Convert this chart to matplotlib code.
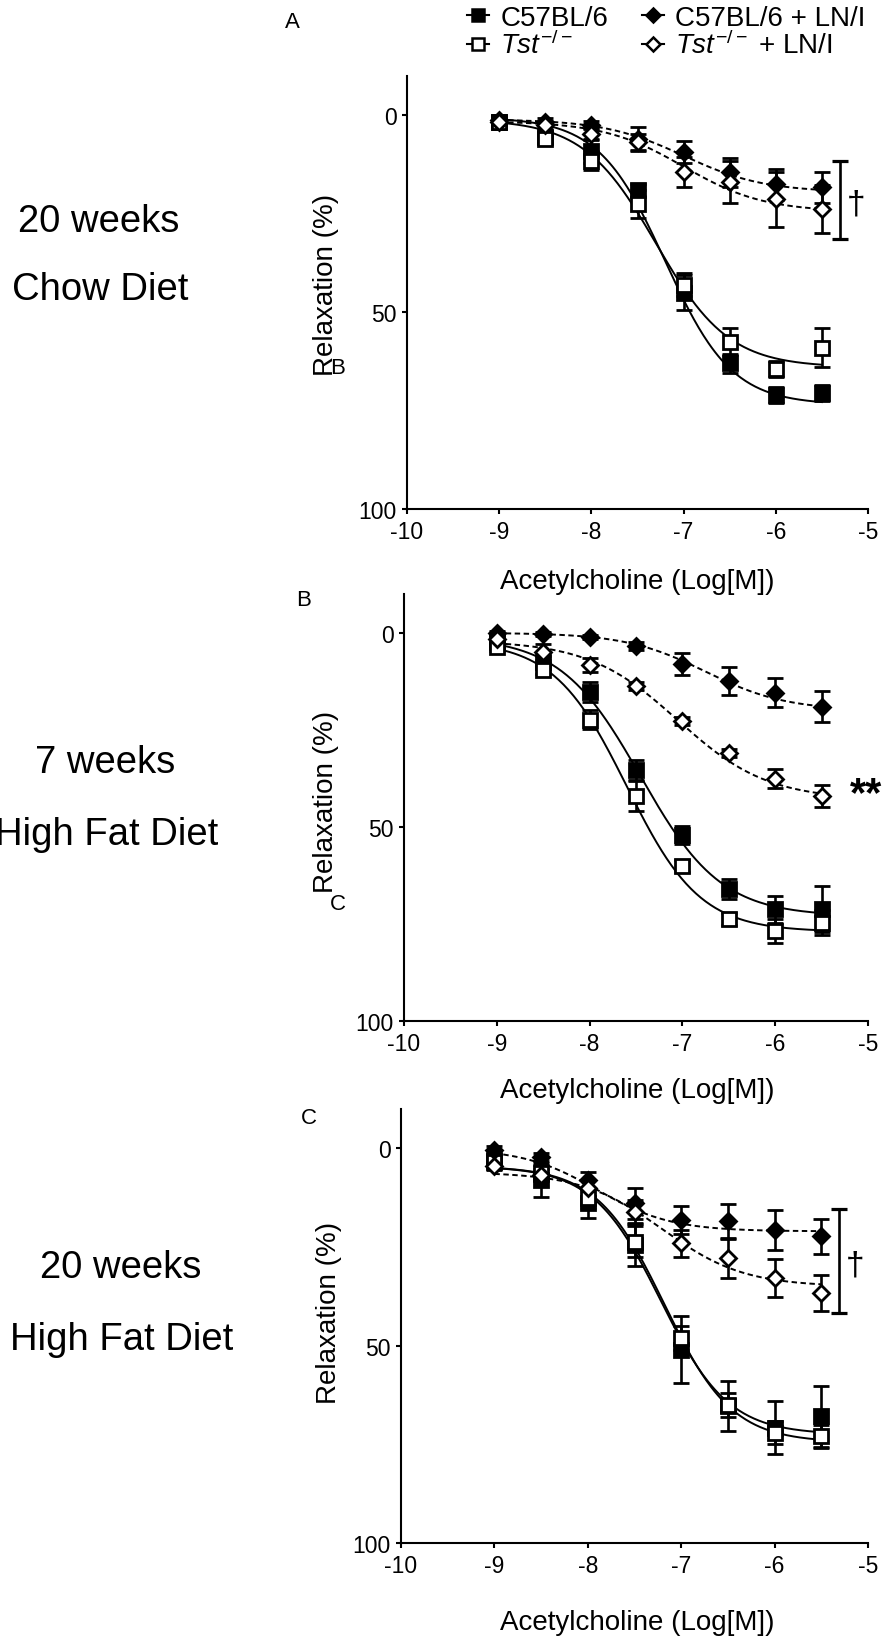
import numpy as np
import matplotlib.pyplot as plt

plt.rcParams['font.family'] = ['Liberation Sans', 'DejaVu Sans']
plt.rcParams['mathtext.fontset'] = 'custom'
plt.rcParams['mathtext.rm'] = 'Liberation Sans'
plt.rcParams['mathtext.it'] = 'Liberation Sans:italic'
plt.rcParams['axes.unicode_minus'] = False

W, H = 886, 1640

# concentrations (log M)
log_ach = [-9, -8.5, -8, -7.5, -7, -6.5, -6, -5.5]
x_ticks = [-10, -9, -8, -7, -6, -5]
y_ticks = [0, 50, 100]

labels = ['C57BL/6', r'$Tst^{-/-}$', 'C57BL/6 + LN/I', r'$Tst^{-/-}$ + LN/I']

# A: 20 weeks chow diet
a_c57 = [1.7, 5.5, 9.0, 19.0, 45.0, 63.0, 71.0, 70.5]
a_c57_err = [1.0, 1.5, 3.0, 1.5, 4.5, 2.5, 2.0, 2.0]
a_tst = [1.7, 6.0, 11.5, 22.5, 43.0, 57.5, 64.5, 59.0]
a_tst_err = [1.0, 1.0, 2.5, 3.5, 3.0, 3.4, 2.0, 5.0]
a_c57_ln = [1.3, 1.7, 2.5, 6.0, 9.4, 14.5, 17.5, 18.3]
a_c57_ln_err = [1.0, 1.0, 1.0, 3.0, 2.8, 3.6, 4.0, 4.0]
a_tst_ln = [1.7, 2.5, 4.7, 6.8, 14.5, 17.0, 21.3, 23.8]
a_tst_ln_err = [1.0, 1.0, 1.5, 2.0, 3.8, 5.3, 7.0, 6.0]
# fitted curves: start, end, logEC50, hill
a_fits = [[0.5, 73.5, -7.2, 1.2], [1.0, 64.0, -7.3, 1.1],
          [1.0, 19.5, -7.0, 1.0], [1.5, 24.5, -7.0, 1.0]]

# B: 7 weeks high fat diet
b_c57 = [2.3, 7.4, 15.2, 35.3, 52.0, 66.0, 71.2, 71.2]
b_c57_err = [1.0, 1.5, 2.6, 2.6, 2.3, 2.7, 3.5, 6.0]
b_tst = [3.6, 9.6, 22.4, 42.0, 60.0, 73.8, 76.8, 74.7]
b_tst_err = [1.0, 1.0, 2.5, 3.8, 1.5, 1.5, 3.0, 3.2]
b_c57_ln = [0.0, 0.2, 1.0, 3.3, 8.0, 12.3, 15.4, 19.0]
b_c57_ln_err = [0.5, 0.5, 0.5, 1.0, 2.8, 3.6, 3.8, 4.0]
b_tst_ln = [1.5, 4.9, 8.3, 13.7, 22.7, 31.0, 37.6, 42.0]
b_tst_ln_err = [1.0, 2.0, 1.7, 1.0, 1.0, 1.0, 2.4, 2.9]
b_fits = [[1.0, 73.0, -7.45, 1.0], [2.0, 77.0, -7.6, 1.1],
          [0.0, 20.0, -6.75, 1.0], [2.0, 43.0, -7.05, 0.9]]

# C: 20 weeks high fat diet
c_c57 = [3.0, 8.0, 13.9, 24.5, 51.0, 65.3, 70.8, 67.9]
c_c57_err = [1.5, 4.2, 3.6, 5.3, 8.5, 6.3, 6.7, 7.8]
c_tst = [3.4, 6.3, 12.6, 23.6, 48.0, 65.0, 72.0, 73.0]
c_tst_err = [1.0, 2.0, 2.5, 4.0, 3.0, 3.0, 3.0, 3.0]
c_c57_ln = [0.4, 2.1, 8.0, 13.9, 18.1, 18.5, 20.7, 22.3]
c_c57_ln_err = [1.0, 1.0, 2.0, 4.0, 3.5, 4.5, 5.0, 4.5]
c_tst_ln = [4.5, 6.7, 10.0, 16.0, 24.0, 27.8, 32.9, 36.7]
c_tst_ln_err = [1.0, 1.5, 2.0, 3.0, 3.4, 5.0, 4.8, 4.5]
c_fits = [[4.5, 72.5, -7.22, 1.2], [4.5, 74.5, -7.18, 1.2],
          [0.0, 21.0, -7.9, 1.1], [6.0, 35.0, -7.2, 1.0]]

# significance bars: x, y low, y high
a_sig = [-5.30, 11.7, 31.3]
c_sig = [-5.31, 15.4, 41.7]

styles = [dict(marker='s', mfc='k', ms=10, ls='-'),
          dict(marker='s', mfc='w', ms=10, ls='-'),
          dict(marker='D', mfc='k', ms=8.5, ls=(0, (2.8, 1.8))),
          dict(marker='D', mfc='w', ms=8.5, ls=(0, (2.8, 1.8)))]


def sigmoid(x, p):
    start, end, ec50, hill = p
    return start + (end - start) / (1 + 10 ** ((ec50 - x) * hill))


def px(x, y):
    return x / W, 1 - y / H


fig = plt.figure(figsize=(W / 100, H / 100), dpi=100)

# axes boxes in pixels: left, right, top, bottom
boxes = [(407, 868, 77, 510), (404, 868, 595, 1022), (401, 868, 1110, 1544)]
panel_data = [
    ([a_c57, a_tst, a_c57_ln, a_tst_ln], [a_c57_err, a_tst_err, a_c57_ln_err, a_tst_ln_err], a_fits),
    ([b_c57, b_tst, b_c57_ln, b_tst_ln], [b_c57_err, b_tst_err, b_c57_ln_err, b_tst_ln_err], b_fits),
    ([c_c57, c_tst, c_c57_ln, c_tst_ln], [c_c57_err, c_tst_err, c_c57_ln_err, c_tst_ln_err], c_fits),
]

xx = np.linspace(log_ach[0], log_ach[-1], 200)
axes = []
for (l, r, t, b), (series, errs, fits) in zip(boxes, panel_data):
    ax = fig.add_axes([l / W, 1 - b / H, (r - l) / W, (b - t) / H])
    for y, e, p, st in zip(series, errs, fits, styles):
        ax.plot(xx, sigmoid(xx, p), color='k', lw=1.4, ls=st['ls'], zorder=2)
        ax.errorbar(log_ach, y, yerr=e, fmt=st['marker'], mfc=st['mfc'], mec='k',
                    ms=st['ms'], mew=2, ecolor='k', elinewidth=1.9, capsize=6,
                    capthick=2.3, zorder=3)
    ax.set_xlim(-10, -5)
    ax.set_ylim(100, -10)
    ax.set_xticks(x_ticks)
    ax.set_yticks(y_ticks)
    ax.spines[['top', 'right']].set_visible(False)
    ax.spines[['left', 'bottom']].set_linewidth(1.5)
    ax.tick_params(width=1.5, length=3.6, labelsize=16.5, pad=4)
    axes.append(ax)

# significance markers
for ax, sig, yd in [(axes[0], a_sig, 22.6), (axes[2], c_sig, 29.5)]:
    mid = (sig[1] + sig[2]) / 2
    half = (sig[2] - sig[1]) / 2
    ax.errorbar([sig[0]], [mid], yerr=[half], fmt='none', ecolor='k',
                elinewidth=1.9, capsize=6, capthick=2.3, clip_on=False)
    ax.text(sig[0] + 0.17, yd, '\u2020', fontsize=24, ha='center', va='center')
axes[1].text(-5.19, 41.5, '**', fontsize=30, fontweight='bold', ha='left',
             va='center', clip_on=False)

# axis labels
for xl_y, yl_x, yl_y in [(582, 326, 285), (1091, 326, 802), (1623, 329, 1313)]:
    fig.text(*px(637, xl_y), 'Acetylcholine (Log[M])', fontsize=20,
             ha='center', va='center')
    fig.text(*px(yl_x, yl_y), 'Relaxation (%)', fontsize=20, rotation=90,
             ha='center', va='center')

# panel letters (incl. the overlapping ones)
for (x, y), s in [((292, 22), 'A'), ((304, 600), 'B'), ((309, 1119), 'C'),
                  ((338, 368), 'B'), ((338, 904), 'C')]:
    fig.text(*px(x, y), s, fontsize=16, ha='center', va='center')

# group descriptions
for (x, y), s in [((99, 222), '20 weeks'), ((100, 290), 'Chow Diet'),
                  ((105, 763), '7 weeks'), ((107, 835), 'High Fat Diet'),
                  ((121, 1268), '20 weeks'), ((122, 1340), 'High Fat Diet')]:
    fig.text(*px(x, y), s, fontsize=27.5, ha='center', va='center')

# legend
handles = [plt.Line2D([], [], color='k', marker=st['marker'], mfc=st['mfc'], mec='k',
                      ms=st['ms'] * 0.8, mew=1.8, lw=1.5) for st in styles]
fig.legend(handles, labels, ncol=2, loc='upper left', bbox_to_anchor=px(467, 6),
           frameon=False, fontsize=20, handlelength=0.8, handletextpad=0.4,
           columnspacing=1.2, labelspacing=0.0, borderaxespad=0, borderpad=0)

fig.savefig('out.png', dpi=100)
